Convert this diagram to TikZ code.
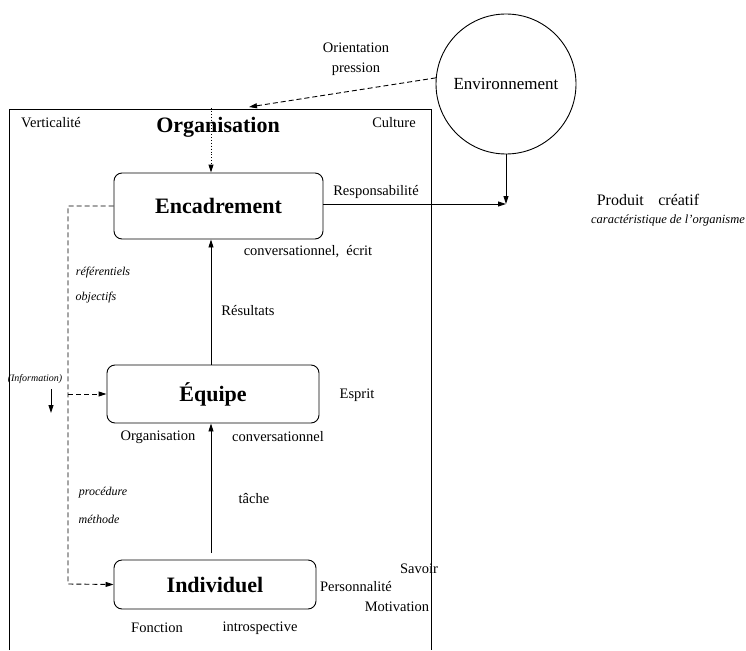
\documentclass[tikz,border=0pt]{standalone}
\usepackage{fontspec}
\setmainfont{Liberation Serif}
\usetikzlibrary{arrows.meta}
\begin{document}
\begin{tikzpicture}[x=1pt,y=-1pt,line width=0.9pt,
  tip/.style={-{Triangle[length=8pt,width=5pt]}},
  dsh/.style={dash pattern=on 5pt off 3pt},
  boxnode/.style={draw,rounded corners=8pt,inner sep=0pt,font=\fontsize{22}{26}\selectfont\bfseries},
  lbl/.style={inner sep=0pt,font=\fontsize{14.5}{17}\selectfont},
  ilbl/.style={inner sep=0pt,font=\fontsize{12}{14}\selectfont\itshape},
  big/.style={inner sep=0pt,font=\fontsize{22}{26}\selectfont\bfseries}]
\useasboundingbox (0,0) rectangle (746,650);
% outer frame (open at the bottom)
\draw (9,650) -- (9,109) -- (431,109) -- (431,650);
% main nodes
\node[draw,circle,minimum size=140pt,inner sep=0pt,font=\fontsize{17}{20}\selectfont] (env) at (506,84) {Environnement};
\node[boxnode,minimum width=209pt,minimum height=66pt] (enc) at (218.5,206) {Encadrement};
\node[boxnode,minimum width=212pt,minimum height=58pt] (equ) at (213,394) {Équipe};
\node[boxnode,minimum width=202pt,minimum height=49pt] (ind) at (215,584.5) {Individuel};
% coordinates
\coordinate (meet) at (506,204);
\coordinate (dtop) at (211,108);
\coordinate (orgin) at (249,107);
\coordinate (dl) at (68,584);
\coordinate (tfoot) at (211,553);
\coordinate (itop) at (51,389);
\coordinate (ibot) at (51,413);
% connectors
\draw[tip,dsh] (env.175) -- (orgin);
\draw[tip,dotted] (dtop) -- (dtop |- enc.north);
\draw[tip] (enc.east |- meet) -- (meet);
\draw[tip] (env.south) -- (meet);
\draw[tip] (equ.north -| dtop) -- (enc.south -| dtop);
\draw[tip] (tfoot) -- (equ.south -| tfoot);
\draw[tip,dsh] (enc.west) -| (dl) -- (ind.west);
\draw[tip,dsh] (equ.west -| dl) -- (equ.west);
\draw[tip] (itop) -- (ibot);
% labels
\node[lbl,align=center] (orient) at (356,59) {Orientation\\[3pt]pression};
\node[big] (orgtitle) at (218,127) {Organisation};
\node[lbl] (vert) at (51,123) {Verticalité};
\node[lbl] (cult) at (394,123) {Culture};
\node[lbl] (resp) at (376,192) {Responsabilité};
\node[inner sep=0pt,font=\fontsize{16}{19}\selectfont] (prod) at (648,200) {Produit\hspace{0.9em}créatif};
\node[inner sep=0pt,font=\fontsize{12.5}{15}\selectfont\itshape] (carac) at (668,220) {caractéristique de l’organisme};
\node[lbl] (convecr) at (308,252) {conversationnel,\ \ écrit};
\node[ilbl] (refer) at (103,273) {référentiels};
\node[ilbl] (obj) at (96,298) {objectifs};
\node[lbl] (resu) at (248,311) {Résultats};
\node[inner sep=0pt,font=\fontsize{10}{12}\selectfont\itshape] (info) at (35,379) {(Information)};
\node[lbl] (esprit) at (357,395) {Esprit};
\node[lbl] (orgsmall) at (158,437) {Organisation};
\node[lbl] (conv) at (278,437) {conversationnel};
\node[ilbl] (proc) at (103,493) {procédure};
\node[ilbl] (meth) at (99,519) {méthode};
\node[lbl] (tache) at (254,499) {tâche};
\node[lbl] (savoir) at (419,569) {Savoir};
\node[lbl] (perso) at (356,587) {Personnalité};
\node[lbl] (motiv) at (397,607) {Motivation};
\node[lbl] (fonc) at (157,628) {Fonction};
\node[lbl] (intro) at (260,628) {introspective};
\end{tikzpicture}
\end{document}
